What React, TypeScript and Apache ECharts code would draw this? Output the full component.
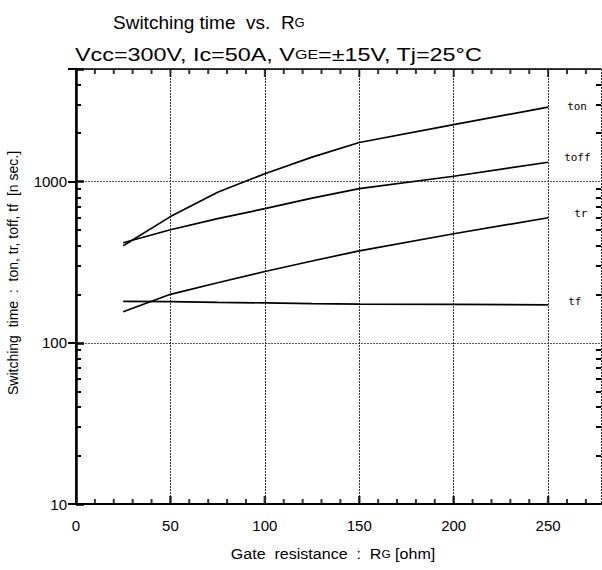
import React, { useEffect, useRef } from "react";
import * as echarts from "echarts";

// Gate resistance values (ohm)
const rg = [25, 50, 75, 100, 125, 150, 200, 250];
// Switching times (ns)
const tonValues = [400, 607, 860, 1120, 1420, 1750, 2260, 2900];
const toffValues = [418, 503, 590, 680, 790, 905, 1080, 1320];
const trValues = [156, 200, 236, 277, 322, 372, 475, 597];
const tfValues = [181, 180, 178, 177, 175, 174, 173, 172];

const seriesNames = ["ton", "toff", "tr", "tf"];

// axis tick values
const xMajorTicks = [50, 100, 150, 200, 250];
const xMinorTicks = [10, 20, 30, 40, 60, 70, 80, 90, 110, 120, 130, 140, 160, 170, 180, 190, 210, 220, 230, 240, 260, 270];
const yMinorTicks = [20, 30, 40, 50, 60, 70, 80, 90, 200, 300, 400, 500, 600, 700, 800, 900, 2000, 3000, 4000];
const yMajorLabels = [10, 100, 1000];
const Y_MIN = 10;
const Y_MAX = 5000;
const X_MAX = 278;

const FONT = "'Liberation Sans', Arial, sans-serif";

export default function App() {
  const ref = useRef<HTMLDivElement>(null);
  useEffect(() => {
    if (!ref.current) return;
    const chart = echarts.init(ref.current, null, { renderer: "svg" });
    const labelOffsets: Record<string, number[]> = {
      ton: [19, -1],
      toff: [16, -5],
      tr: [26, -4],
      tf: [20, -3],
    };
    const allVals = [tonValues, toffValues, trValues, tfValues];
    const lineSeries = seriesNames.map((name, i) => ({
      type: "line",
      name,
      silent: true,
      data: rg.map((x, j) => {
        const item: any = { value: [x, allVals[i][j]] };
        if (j === rg.length - 1) {
          item.label = {
            show: true,
            position: "right",
            distance: 0,
            formatter: name,
            offset: labelOffsets[name],
            fontFamily: "'DejaVu Sans Mono', monospace",
            fontSize: 11,
            color: "#000",
          };
        }
        return item;
      }),
      showSymbol: true,
      showAllSymbol: true,
      symbol: "circle",
      symbolSize: 0.01,
      itemStyle: { color: "#000" },
      smooth: false,
      lineStyle: { color: "#000", width: 1.7 },
      z: 5,
    }));

    const tickSeries = (ticks: number[], yv: number, len: number, w: number, dir: number) => ({
      type: "scatter",
      silent: true,
      clip: false,
      data: ticks.map((t) => [t, yv]),
      symbol: "rect",
      symbolSize: [w, len],
      symbolOffset: [0, (dir * len) / 2],
      itemStyle: { color: "#000" },
      z: 6,
    });

    const yBase = { type: "log", logBase: 10, min: Y_MIN, max: Y_MAX };
    const hidden = { axisLabel: { show: false }, splitLine: { show: false } };

    const option: any = {
      animation: false,
      grid: { left: 76, top: 69, right: 1, bottom: 66 },
      xAxis: [
        {
          type: "value",
          min: 0,
          max: X_MAX,
          interval: 50,
          position: "bottom",
          axisLine: { show: true, lineStyle: { color: "#000", width: 2 } },
          axisTick: { show: false },
          axisLabel: {
            show: true,
            color: "#000",
            fontSize: 15,
            fontFamily: FONT,
            margin: 14,
            showMaxLabel: false,
          },
          splitLine: { show: true, lineStyle: { color: "#333", type: [2, 1], width: 1 } },
        },
        {
          type: "value",
          min: 0,
          max: X_MAX,
          interval: 50,
          position: "top",
          axisLine: { show: true, lineStyle: { color: "#000", width: 1.5 } },
          axisTick: { show: false },
          ...hidden,
        },
      ],
      yAxis: [
        {
          ...yBase,
          position: "left",
          axisLine: { show: true, lineStyle: { color: "#000", width: 2.5 } },
          axisTick: { show: true, inside: true, length: 8, lineStyle: { color: "#000", width: 2.5 } },
          axisLabel: {
            show: true,
            color: "#000",
            fontSize: 15,
            fontFamily: FONT,
            margin: 9,
            formatter: (v: number) => (yMajorLabels.some((m) => Math.abs(m - v) < 1e-6) ? String(Math.round(v)) : ""),
          },
          splitLine: { show: true, lineStyle: { color: "#555", type: [2, 1], width: 1.2 } },
        },
        {
          ...yBase,
          position: "right",
          axisLine: { show: true, lineStyle: { color: "#000", width: 1.5 } },
          axisTick: { show: true, inside: true, length: 8, lineStyle: { color: "#000", width: 2 } },
          ...hidden,
        },
        {
          ...yBase,
          position: "left",
          axisLine: { show: false },
          axisTick: { show: true, inside: true, length: 5, customValues: yMinorTicks, lineStyle: { color: "#000", width: 2 } },
          ...hidden,
        },
        {
          ...yBase,
          position: "right",
          axisLine: { show: false },
          axisTick: { show: true, inside: true, length: 5, customValues: yMinorTicks, lineStyle: { color: "#000", width: 2 } },
          ...hidden,
        },
      ],
      graphic: [
        {
          type: "text",
          x: 113,
          y: 13,
          style: {
            text: "{a|Switching time  vs.  R}{s|G}",
            rich: {
              a: { fontSize: 19, fontFamily: FONT, fill: "#000" },
              s: { fontSize: 13, fontFamily: FONT, fill: "#000" },
            },
          },
        },
        {
          type: "text",
          x: 75,
          y: 45,
          scaleX: 1.23,
          style: {
            text: "{a|Vcc=300V, Ic=50A, V}{s|GE}{a|=±15V, Tj=25°C}",
            rich: {
              a: { fontSize: 19, fontFamily: FONT, fill: "#000" },
              s: { fontSize: 13, fontFamily: FONT, fill: "#000" },
            },
          },
        },
        {
          type: "text",
          x: 333,
          y: 554,
          scaleX: 1.07,
          style: {
            text: "{a|Gate  resistance  :  R}{s|G}{a| [ohm]}",
            align: "center",
            verticalAlign: "middle",
            rich: {
              a: { fontSize: 15, fontFamily: FONT, fill: "#000" },
              s: { fontSize: 11, fontFamily: FONT, fill: "#000" },
            },
          },
        },
        {
          type: "text",
          x: 13,
          y: 273,
          rotation: Math.PI / 2,
          style: {
            text: "Switching  time  :  ton, tr, toff, tf  [n sec.]",
            align: "center",
            verticalAlign: "middle",
            fontSize: 14,
            fontFamily: FONT,
            fill: "#000",
          },
        },
      ],
      series: [
        ...lineSeries,
        tickSeries(xMajorTicks, Y_MIN, 8, 2.5, -1),
        tickSeries(xMinorTicks, Y_MIN, 5, 2, -1),
        tickSeries(xMajorTicks, Y_MAX, 8, 2, 1),
        tickSeries(xMinorTicks, Y_MAX, 5, 2, 1),
      ],
    };
    chart.setOption(option);
    return () => chart.dispose();
  }, []);
  return <div ref={ref} style={{ position: "absolute", left: 0, top: 0, width: 602, height: 570 }} />;
}
